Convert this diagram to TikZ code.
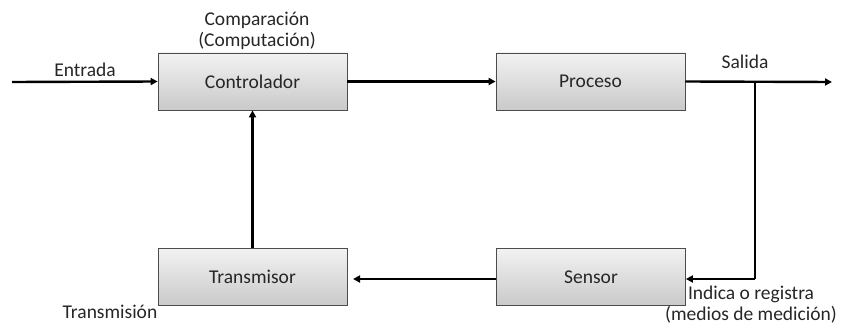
\documentclass[tikz,border=0pt]{standalone}
\usepackage{fontspec}
\setmainfont{Carlito}
\usetikzlibrary{arrows.meta}
\begin{document}
\begin{tikzpicture}[x=1pt,y=-1pt,
  blk/.style={draw=black!70,line width=0.8pt,top color=gray!10,bottom color=gray!42,minimum width=189pt,minimum height=57pt,inner sep=0pt,text=black!85,font=\fontsize{19.5}{23}\selectfont},
  lbl/.style={font=\fontsize{19.5}{21.5}\selectfont,text=black!85,inner sep=0pt,align=center},
  conn/.style={line width=2.4pt,-{Triangle[length=7pt,width=7pt]}},
  line/.style={line width=2.4pt}]
\useasboundingbox (0,0) rectangle (848,326);
\node[blk] (ctrl) at (252.5,81.5) {Controlador};
\node[blk] (proc) at (590.5,81.5) {Proceso};
\node[blk] (trans) at (252.5,277) {Transmisor};
\node[blk] (sens) at (591,277) {Sensor};
\coordinate (in) at (12,82);
\coordinate (out) at (832,82);
\coordinate (br) at (755,82);
\coordinate (brd) at (755,279);
\coordinate (tin) at (353,279);
\draw[conn] (in) -- (ctrl.west);
\draw[conn] (ctrl.east) -- (proc.west);
\draw[conn] (proc.east) -- (out);
\draw[line] (br) -- (brd);
\draw[conn] (brd) -- (sens.east |- brd);
\draw[conn] (sens.west |- tin) -- (tin);
\draw[conn] (trans.north) -- (ctrl.south);
\node[lbl] (lin) at (85,70) {Entrada};
\node[lbl] (lcomp) at (257,31) {Comparación\\(Computación)};
\node[lbl] (lsal) at (745,62) {Salida};
\node[lbl] (ltr) at (110,312) {Transmisión};
\node[lbl] (lind) at (751,304.5) {Indica o registra\\(medios de medición)};
\end{tikzpicture}
\end{document}
